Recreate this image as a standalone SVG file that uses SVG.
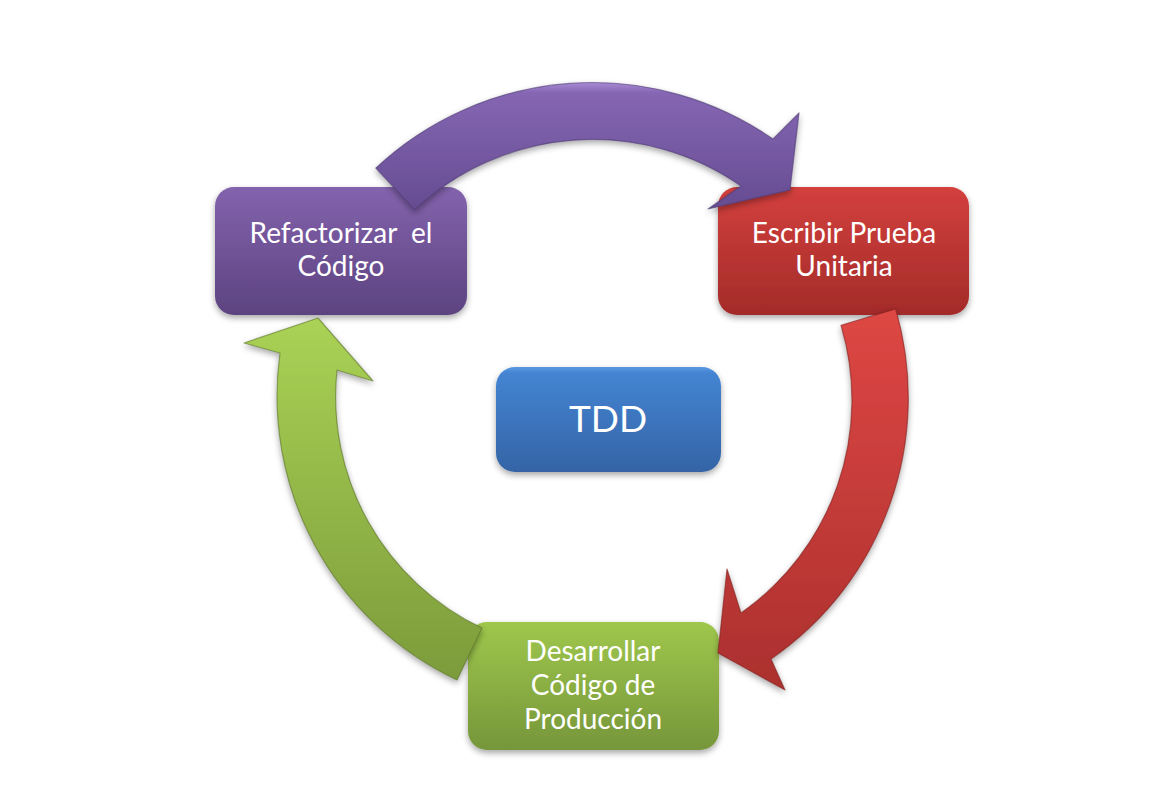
<svg xmlns="http://www.w3.org/2000/svg" width="1161" height="794" viewBox="0 0 1161 794">
<defs>
<linearGradient id="gPurple" x1="0" y1="0" x2="0" y2="1"><stop offset="0" stop-color="#8363ad"/><stop offset="1" stop-color="#5c4380"/></linearGradient>
<linearGradient id="gRed" x1="0" y1="0" x2="0" y2="1"><stop offset="0" stop-color="#d3403d"/><stop offset="1" stop-color="#a32b29"/></linearGradient>
<linearGradient id="gGreen" x1="0" y1="0" x2="0" y2="1"><stop offset="0" stop-color="#9fc74c"/><stop offset="1" stop-color="#76963a"/></linearGradient>
<linearGradient id="gBlue" x1="0" y1="0" x2="0" y2="1"><stop offset="0" stop-color="#5a98e0"/><stop offset="0.06" stop-color="#4484d2"/><stop offset="1" stop-color="#3464a6"/></linearGradient>
<linearGradient id="aPurple" x1="0" y1="0" x2="0" y2="1"><stop offset="0" stop-color="#a88ad4"/><stop offset="0.08" stop-color="#8566b3"/><stop offset="1" stop-color="#654c91"/></linearGradient>
<linearGradient id="aRed" x1="0" y1="0" x2="0" y2="1"><stop offset="0" stop-color="#de4744"/><stop offset="1" stop-color="#ab302e"/></linearGradient>
<linearGradient id="aGreen" x1="0" y1="0" x2="0" y2="1"><stop offset="0" stop-color="#aad255"/><stop offset="1" stop-color="#7c9b3b"/></linearGradient>
<filter id="shadow" x="-10%" y="-10%" width="120%" height="130%"><feDropShadow dx="0" dy="3" stdDeviation="3" flood-color="#000" flood-opacity="0.35"/></filter>
</defs>
<style>
.box{filter:url(#shadow);}
.lbl{font-family:Lato,"Liberation Sans",sans-serif;font-size:28px;fill:#ffffff;text-anchor:middle;}
.arrow{filter:url(#shadow);stroke-width:1.2;stroke-linejoin:round;stroke-opacity:0.6;}
</style>
<rect width="1161" height="794" fill="#ffffff"/>
<g id="node-refactorizar">
<rect class="box" x="215" y="187" width="252" height="128" rx="19" fill="url(#gPurple)"/>
<text class="lbl" x="341" y="243">Refactorizar&#160; el</text>
<text class="lbl" x="341" y="276">Código</text>
</g>
<g id="node-escribir">
<rect class="box" x="718" y="187" width="251" height="128" rx="19" fill="url(#gRed)"/>
<text class="lbl" x="844" y="243">Escribir Prueba</text>
<text class="lbl" x="844" y="276">Unitaria</text>
</g>
<g id="node-desarrollar">
<rect class="box" x="468" y="622" width="251" height="128" rx="19" fill="url(#gGreen)"/>
<text class="lbl" x="593" y="661">Desarrollar</text>
<text class="lbl" x="593" y="695">Código de</text>
<text class="lbl" x="593" y="729">Producción</text>
</g>
<g id="node-tdd">
<rect class="box" x="496" y="367" width="225" height="105" rx="19" fill="url(#gBlue)"/>
<text class="lbl" x="608" y="432" style="font-size:37px">TDD</text>
</g>
<g id="connectors">
<path class="arrow" fill="url(#aPurple)" stroke="#4f3a73" d="M 375.8 168.1 A 317 317 0 0 1 773 139 L 799 113 L 790 190 L 708 209 L 741 186 A 260 260 0 0 0 414.7 209.8 Z"/>
<path class="arrow" fill="url(#aRed)" stroke="#7e2220" d="M 895.6 308.9 A 317 317 0 0 1 771 659 L 785 690 L 718 653 L 727 569 L 741 613 A 260 260 0 0 0 841 325.3 Z"/>
<path class="arrow" fill="url(#aGreen)" stroke="#5a7229" d="M 457 680 A 314 314 0 0 1 280 353 L 244 343 L 318 318 L 373 381 L 337 370 A 256 256 0 0 0 482 628 Z"/>
</g>
</svg>
